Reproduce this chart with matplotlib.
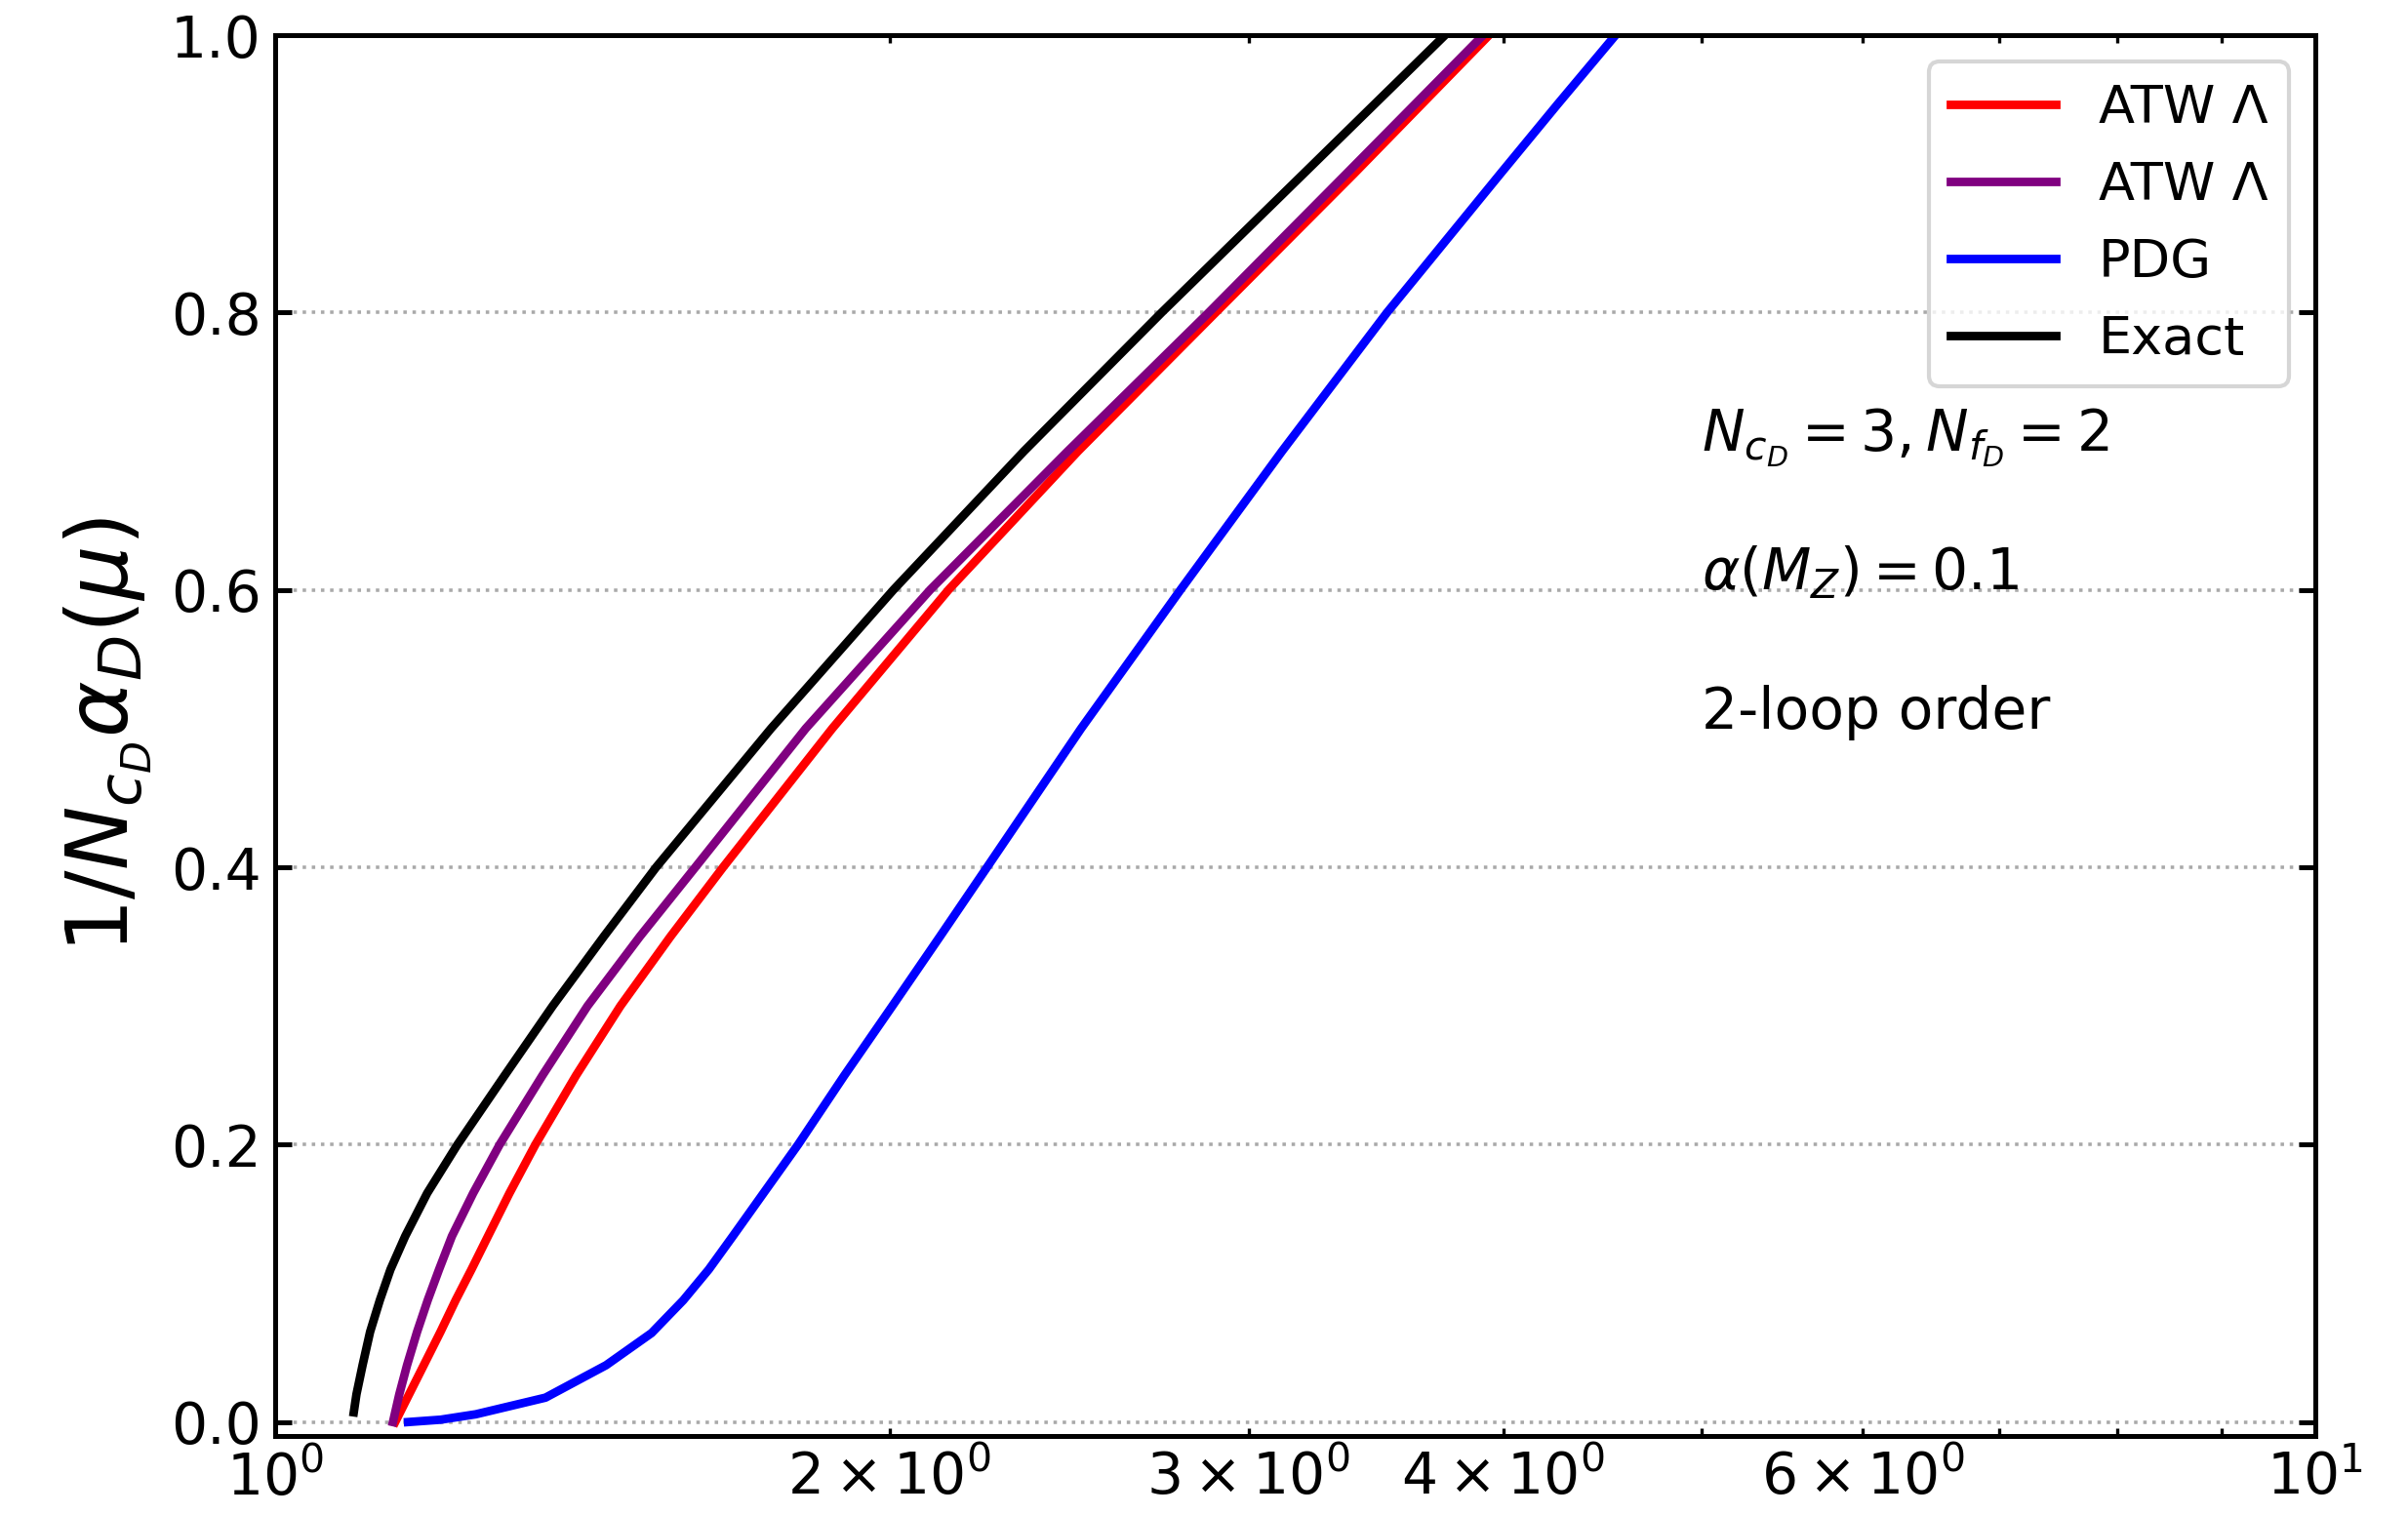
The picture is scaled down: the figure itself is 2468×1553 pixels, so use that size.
import numpy as np
import matplotlib
matplotlib.use("Agg")
import matplotlib.pyplot as plt

# ---- data (mu, 1/(N_c alpha_D)) ----
exact_x = [1.0927, 1.0960, 1.1036, 1.1130, 1.1254, 1.1389, 1.1580, 1.1871, 1.2283,
           1.2957, 1.3677, 1.4488, 1.5371, 1.7498, 2.0091, 2.3281, 2.7196, 3.1916, 3.7446]
exact_y = [0.007, 0.02, 0.041, 0.065, 0.088, 0.11, 0.134, 0.165, 0.2,
           0.25, 0.3, 0.35, 0.4, 0.5, 0.6, 0.7, 0.8, 0.9, 1.0]

atw1_x = [1.1450, 1.1631, 1.1825, 1.2050, 1.2260, 1.2479, 1.2714, 1.3026, 1.3412,
          1.4044, 1.4764, 1.5621, 1.6577, 1.8750, 2.1380, 2.4746, 2.8907, 3.3784, 3.9355]
atw1_y = [0.0, 0.02, 0.041, 0.065, 0.088, 0.11, 0.134, 0.165, 0.2,
          0.25, 0.3, 0.35, 0.4, 0.5, 0.6, 0.7, 0.8, 0.9, 1.0]

atw2_x = [1.1421, 1.1503, 1.1604, 1.1736, 1.1879, 1.2031, 1.2207, 1.2503, 1.2882,
          1.3521, 1.4226, 1.5090, 1.6066, 1.8197, 2.0941, 2.4462, 2.8681, 3.3497, 3.9093]
atw2_y = [0.0, 0.02, 0.041, 0.065, 0.088, 0.11, 0.134, 0.165, 0.2,
          0.25, 0.3, 0.35, 0.4, 0.5, 0.6, 0.7, 0.8, 0.9, 1.0]

pdg_x = [1.1617, 1.2053, 1.2540, 1.3567, 1.4528, 1.5293, 1.5849, 1.6312, 1.6761, 1.8042,
         1.9011, 2.0068, 2.1174, 2.2331, 2.4831, 2.7779, 3.1153, 3.5075, 3.9857, 4.2511,
         4.5394]
pdg_y = [0.0, 0.0017, 0.0056, 0.0176, 0.041, 0.0642, 0.0878, 0.11, 0.134, 0.2,
         0.25, 0.3, 0.35, 0.4, 0.5, 0.6, 0.7, 0.8, 0.9, 0.95,
         1.0]

labels = ["ATW Λ", "ATW Λ", "PDG", "Exact"]
colors = ["red", "purple", "blue", "black"]
yticks = [0.0, 0.2, 0.4, 0.6, 0.8, 1.0]

fig = plt.figure(figsize=(2468 / 300, 1553 / 300), dpi=300)
ax = fig.add_axes([0.1143, 0.0522, 0.9615 - 0.1143, 0.9768 - 0.0522])

series = [(atw1_x, atw1_y), (atw2_x, atw2_y), (pdg_x, pdg_y), (exact_x, exact_y)]
for (xs, ys), lab, c in zip(series, labels, colors):
    ax.plot(xs, ys, color=c, lw=2.1, label=lab)

ax.set_xscale("log")
ax.set_xlim(1, 10)
ax.set_ylim(-0.01, 1.0)
ax.set_yticks(yticks)
ax.yaxis.grid(True, linestyle=":", color="#a9a9a9", linewidth=0.85)
ax.set_axisbelow(True)

ax.tick_params(which="both", direction="in", top=True, right=True, labelsize=14)
ax.tick_params(which="major", length=4, width=1.2)
ax.tick_params(which="minor", length=2, width=0.8)
for s in ax.spines.values():
    s.set_linewidth(1.2)

ax.set_ylabel(r"$1/N_{c_D}\alpha_D(\mu)$", fontsize=21)

ax.legend(loc="upper right", fontsize=13)

ax.text(5.0, 0.70, r"$N_{c_D}=3, N_{f_D}=2$", fontsize=14)
ax.text(5.0, 0.60, r"$\alpha(M_Z)=0.1$", fontsize=14)
ax.text(5.0, 0.50, "2-loop order", fontsize=14)

fig.savefig("out.png", dpi=300)
